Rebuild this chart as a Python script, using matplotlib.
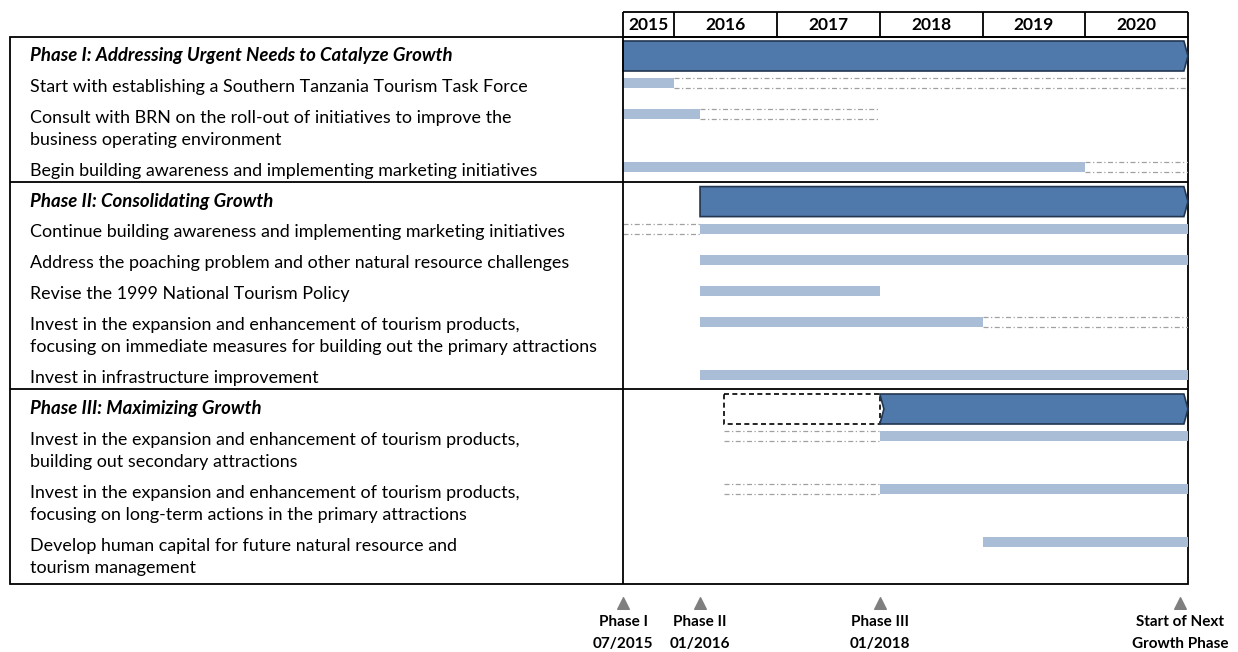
import matplotlib.pyplot as plt
from matplotlib.patches import Polygon, Rectangle

plt.rcParams['font.family'] = ['Lato', 'DejaVu Sans']

# ---- data ----
years = ['2015', '2016', '2017', '2018', '2019', '2020']
year_edges = [2015.5, 2016, 2017, 2018, 2019, 2020, 2021]

labels = [
    'Phase I: Addressing Urgent Needs to Catalyze Growth',
    'Start with establishing a Southern Tanzania Tourism Task Force',
    'Consult with BRN on the roll-out of initiatives to improve the\nbusiness operating environment',
    'Begin building awareness and implementing marketing initiatives',
    'Phase II: Consolidating Growth',
    'Continue building awareness and implementing marketing initiatives',
    'Address the poaching problem and other natural resource challenges',
    'Revise the 1999 National Tourism Policy',
    'Invest in the expansion and enhancement of tourism products,\nfocusing on immediate measures for building out the primary attractions',
    'Invest in infrastructure improvement',
    'Phase III: Maximizing Growth',
    'Invest in the expansion and enhancement of tourism products,\nbuilding out secondary attractions',
    'Invest in the expansion and enhancement of tourism products,\nfocusing on long-term actions in the primary attractions',
    'Develop human capital for future natural resource and\ntourism management',
]
is_phase = [True, False, False, False, True, False, False, False, False, False,
            True, False, False, False]
solid_start = [2015.5, 2015.5, 2015.5, 2015.5, 2016.25, 2016.25, 2016.25, 2016.25,
               2016.25, 2016.25, 2018.0, 2018.0, 2018.0, 2019.0]
solid_end = [2021.0, 2016.0, 2016.25, 2020.0, 2021.0, 2021.0, 2021.0, 2018.0,
             2019.0, 2021.0, 2021.0, 2021.0, 2021.0, 2021.0]
dash_start = [None, 2016.0, 2016.25, 2020.0, None, 2015.5, None, None,
              2019.0, None, 2016.48, 2016.48, 2016.48, None]
dash_end = [None, 2021.0, 2018.0, 2021.0, None, 2016.25, None, None,
            2021.0, None, 2018.0, 2018.0, 2018.0, None]

milestone_x = [2015.5, 2016.25, 2018.0, 2020.92]
milestone_l1 = ['Phase I', 'Phase II', 'Phase III', 'Start of Next']
milestone_l2 = ['07/2015', '01/2016', '01/2018', 'Growth Phase']

# ---- layout ----
W, H = 1238, 652
DARK = '#5079ab'
DARK_EDGE = '#22364f'
LIGHT = '#a9bdd7'

fig = plt.figure(figsize=(W / 100, H / 100), dpi=100)
ax = fig.add_axes([0, 0, 1, 1])
ax.set_xlim(0, W)
ax.set_ylim(H, 0)
ax.axis('off')

ax_t = fig.add_axes([623 / W, 0, 565 / W, 1])
ax_t.set_xlim(year_edges[0], year_edges[-1])
ax_t.set_ylim(H, 0)
ax_t.axis('off')

# row positions (first line of each row)
row_y = []
y = 56
for lab in labels:
    row_y.append(y)
    y += 30.9 + 22 * lab.count('\n')

seps = []
for i, lab in enumerate(labels):
    lines = lab.split('\n')
    ph = is_phase[i]
    for k, ln in enumerate(lines):
        ax.text(30, row_y[i] + 22 * k, ln, fontsize=13.4 if ph else 12.9,
                va='center', ha='left',
                fontweight='bold' if ph else 'normal',
                fontstyle='italic' if ph else 'normal', color='black')
    if ph and i > 0:
        prev_last = row_y[i - 1] + 22 * labels[i - 1].count('\n')
        seps.append(prev_last + 11)

    yc = row_y[i]
    if ph:
        top, bot = yc - 15, yc + 15
        d = 0.04
        x0, x1 = solid_start[i], solid_end[i]
        if dash_start[i] is not None:
            ax_t.add_patch(Rectangle((dash_start[i], top), dash_end[i] - dash_start[i],
                                     bot - top, fill=False, ec='black', ls=(0, (3, 2)),
                                     lw=1.2))
            pts = [(x0, top), (x1 - d, top), (x1, yc), (x1 - d, bot), (x0, bot), (x0 + d, yc)]
        else:
            pts = [(x0, top), (x1 - d, top), (x1, yc), (x1 - d, bot), (x0, bot)]
        ax_t.add_patch(Polygon(pts, closed=True, fc=DARK, ec=DARK_EDGE, lw=1.2,
                               clip_on=False))
    else:
        bc = yc - 3.5
        ax_t.add_patch(Rectangle((solid_start[i], bc - 5), solid_end[i] - solid_start[i],
                                 10, fc=LIGHT, ec='none'))
        if dash_start[i] is not None:
            ax_t.hlines([bc - 5, bc + 5], dash_start[i], dash_end[i], colors='#a0a0a0',
                        linestyles=(0, (4, 2, 1, 2)), lw=0.9)

# table frame
ax.add_patch(Rectangle((10, 37), 1178, 547, fill=False, ec='black', lw=1.3))
ax.hlines(seps, 10, 1188, colors='black', lw=1.3)

# header
ax_t.hlines([12, 37], year_edges[0], year_edges[-1], colors='black', lw=1.3, clip_on=False)
ax_t.vlines(year_edges, 12, 37, colors='black', lw=1.3, clip_on=False)
ax_t.vlines(year_edges[0], 37, 584, colors='black', lw=1.3, clip_on=False)
for j, yr in enumerate(years):
    xc = (year_edges[j] + year_edges[j + 1]) / 2
    ax_t.text(xc, 25, yr, ha='center', va='center', fontsize=12.5, fontweight='bold')

# milestones
ax_t.scatter(milestone_x, [603] * len(milestone_x), marker='^', s=70, color='#7f7f7f',
             clip_on=False, zorder=3)
for mx, l1, l2 in zip(milestone_x, milestone_l1, milestone_l2):
    ax_t.text(mx, 622, l1, ha='center', va='center', fontsize=11, fontweight='bold')
    ax_t.text(mx, 644, l2, ha='center', va='center', fontsize=11, fontweight='bold')

fig.savefig('out.png', dpi=100)
